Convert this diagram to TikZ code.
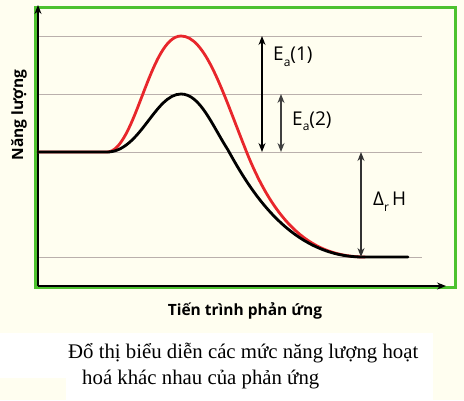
\documentclass[tikz,border=0pt]{standalone}
\usepackage{fontspec}
\setmainfont{Liberation Serif}
\newfontfamily\lblfont{Open Sans}
\usetikzlibrary{arrows.meta,positioning}
\definecolor{cream}{HTML}{FFFEF0}
\definecolor{framegreen}{HTML}{4DC22E}
\definecolor{levelgray}{HTML}{BAB0AC}
\definecolor{curvered}{HTML}{E8262B}
\newcommand{\lowsub}[1]{\raisebox{-0.55ex}{\fontsize{12}{12}\selectfont #1}}

\begin{document}
\begin{tikzpicture}[x=1pt, y=-1pt,
  level/.style={levelgray, line width=0.9pt},
  axis/.style={-{Stealth[length=9pt, width=7pt]}, line width=1.3pt},
  curve/.style={line width=2.8pt, line cap=round},
  gap/.style={{Stealth[length=9pt, width=7pt]}-{Stealth[length=9pt, width=7pt]}, line width=1.2pt},
  gaplabel/.style={font=\lblfont\fontsize{19}{21}\selectfont, anchor=west, inner sep=0pt},
  axlabel/.style={font=\lblfont\bfseries\fontsize{15.5}{17}\selectfont, inner sep=0pt}
]
  \useasboundingbox (0,0) rectangle (464,400);
  \fill[cream] (0,0) rectangle (464,400);
  \fill[white] (0,333) rectangle (66,378);
  \fill[white] (66,333) rectangle (433,400);
  \draw[framegreen, line width=3pt] (35,7) rectangle (455,287);

  % energy levels
  \coordinate (origin) at (38,286);
  \coordinate (ytop) at (38,5);
  \coordinate (xend) at (446,286);
  \coordinate (top1) at (38,36);
  \coordinate (top2) at (38,94);
  \coordinate (react) at (38,152);
  \coordinate (prod) at (38,257);
  \draw[level] (top1) -- (422,36);
  \draw[level] (top2) -- (422,94);
  \draw[level] (react) -- (422,152);
  \draw[level] (prod) -- (422,257);

  % axes
  \draw[axis] (origin) -- (ytop);
  \draw[axis] (origin) -- (xend);

  % curves
  \draw[curve, curvered] (react) -- (107,152)
    .. controls (135,152) and (150,36) .. (181,36)
    .. controls (205,36) and (222,90) .. (245,148)
    .. controls (275,225) and (312,257) .. (365,257);
  \draw[curve] (react) -- (107,152)
    .. controls (140,152) and (155,94) .. (181,94)
    .. controls (200,94) and (212,125) .. (228,150)
    .. controls (250,190) and (290,257) .. (363,257) -- (408,257);

  % gaps
  \coordinate (ea1top) at (262,36);
  \coordinate (ea1bot) at (262,152);
  \coordinate (ea2top) at (281,94);
  \coordinate (ea2bot) at (281,152);
  \coordinate (dhtop) at (361,152);
  \coordinate (dhbot) at (361,257);
  \draw[gap] (ea1top) -- (ea1bot);
  \draw[gap, black!75] (ea2top) -- (ea2bot);
  \draw[gap, black!80] (dhtop) -- (dhbot);
  \node[gaplabel] (ea1) at (273,57) {E\lowsub{a}(1)};
  \node[gaplabel] (ea2) at (292,121) {E\lowsub{a}(2)};
  \node[gaplabel] (dh) at (373,202) {Δ\lowsub{r}\,H};

  % axis labels
  \node[axlabel, rotate=90] (ylabel) at (19,115) {Năng lượng};
  \node[axlabel] (xlabel) at (245,311) {Tiến trình phản ứng};

  % caption
  \node[font=\fontsize{20.8}{26}\selectfont, anchor=west, inner sep=0pt] (cap1) at (68,353) {Đổ thị biểu diễn các mức năng lượng hoạt};
  \node[font=\fontsize{20.8}{26}\selectfont, anchor=west, inner sep=0pt] (cap2) at (82,380) {hoá khác nhau của phản ứng};
\end{tikzpicture}
\end{document}
